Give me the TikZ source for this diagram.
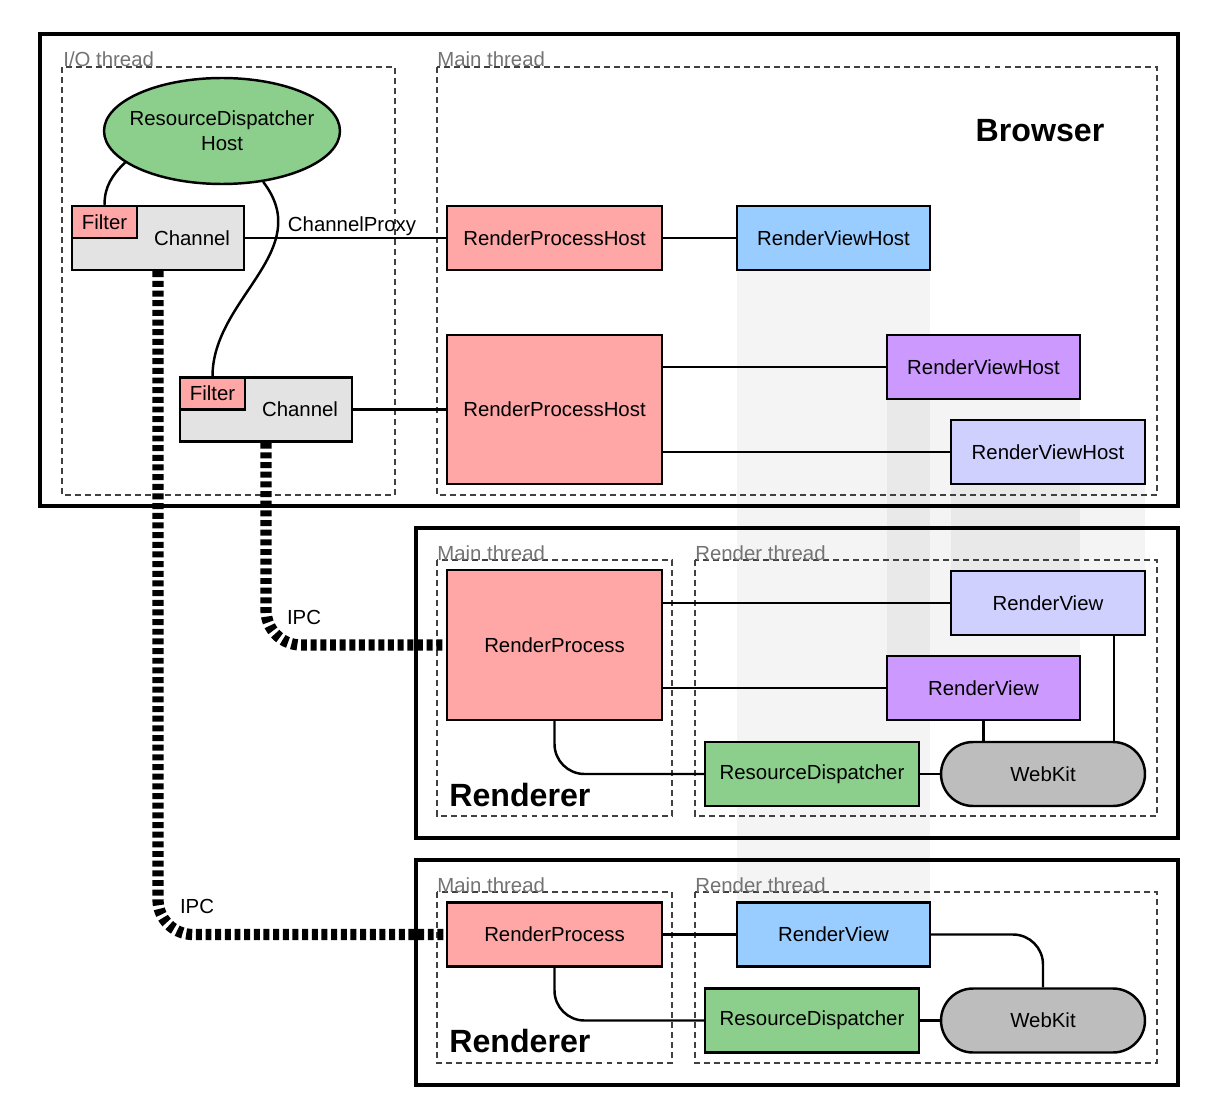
\documentclass[tikz,border=0pt]{standalone}
\usepackage{fontspec}
\setmainfont{Liberation Sans}
\usetikzlibrary{shapes.geometric}
\definecolor{procpink}{HTML}{FFA6A6}
\definecolor{dispgreen}{HTML}{8CCF8C}
\definecolor{viewblue}{HTML}{99CCFF}
\definecolor{viewpurple}{HTML}{CC99FF}
\definecolor{viewlav}{HTML}{D0D0FF}
\definecolor{changray}{HTML}{E3E3E3}
\definecolor{kitgray}{HTML}{BDBDBD}
\newcommand{\boxfont}{\fontsize{11.6}{14}\selectfont}
\newcommand{\bigfont}{\fontsize{18.3}{20}\selectfont\bfseries}
\tikzset{
  box/.style={draw, line width=1.4pt, inner sep=0pt, minimum height=1.28cm, font=\boxfont},
  conn/.style={line width=1.4pt},
  thread/.style={line width=0.8pt, draw=black!75, dash pattern=on 3.4pt off 2.3pt},
  tlabel/.style={anchor=base west, inner sep=0pt, text=black!55, font=\boxfont},
  frame/.style={line width=2.8pt},
  ipc/.style={line width=6.4pt, dash pattern=on 3.4pt off 2.1pt, rounded corners=0.7cm},
}
\begin{document}
\begin{tikzpicture}[x=0.02cm, y=-0.02cm]
  \useasboundingbox (0,0) rectangle (1230,1108);
  % faint projection bands
  \fill[black, opacity=0.045] (737,270) rectangle (930,903);
  \fill[black, opacity=0.045] (887,399) rectangle (1080,656);
  \fill[black, opacity=0.045] (951,484) rectangle (1145,571);
  % process frames and threads
  \draw[frame] (40,34) rectangle (1178,506);
  \draw[frame] (416,528) rectangle (1178,838);
  \draw[frame] (416,860) rectangle (1178,1085);
  \draw[thread] (62,67) rectangle (395,495);
  \draw[thread] (437,67) rectangle (1157,495);
  \draw[thread] (437,560) rectangle (672,816);
  \draw[thread] (695,560) rectangle (1157,816);
  \draw[thread] (437,892) rectangle (672,1063);
  \draw[thread] (695,892) rectangle (1157,1063);
  \node[tlabel] (tio) at (63,67) {I/O thread};
  \node[tlabel] (tbm) at (437,67) {Main thread};
  \node[tlabel] (tr1m) at (437,560) {Main thread};
  \node[tlabel] (tr1r) at (695,560) {Render thread};
  \node[tlabel] (tr2m) at (437,892) {Main thread};
  \node[tlabel] (tr2r) at (695,892) {Render thread};
  \node[font=\bigfont] (browser) at (1040,131) {Browser};
  \node[font=\bigfont, anchor=west, inner sep=0pt] (rend1) at (449,795) {Renderer};
  \node[font=\bigfont, anchor=west, inner sep=0pt] (rend2) at (449,1041) {Renderer};

  % browser
  \node[ellipse, draw, line width=1.4pt, fill=dispgreen, minimum width=4.72cm, minimum height=2.12cm,
        inner sep=0pt, align=center, font=\boxfont] (rdh) at (222,131)
        {\makebox[0pt]{ResourceDispatcher}\\\makebox[0pt]{Host}};
  \node[box, fill=changray, text width=2.88cm, inner xsep=0.28cm, align=right] (ch1) at (158,238) {Channel};
  \node[box, fill=procpink, minimum width=1.3cm, minimum height=0.64cm, anchor=north west] (fil1) at (ch1.north west) {Filter};
  \node[box, fill=changray, text width=2.88cm, inner xsep=0.28cm, align=right] (ch2) at (266,409.5) {Channel};
  \node[box, fill=procpink, minimum width=1.3cm, minimum height=0.64cm, anchor=north west] (fil2) at (ch2.north west) {Filter};
  \node[box, fill=procpink, minimum width=4.3cm] (rph1) at (554.5,238) {RenderProcessHost};
  \node[box, fill=viewblue, minimum width=3.86cm] (rvh1) at (833.5,238) {RenderViewHost};
  \node[box, fill=procpink, minimum width=4.3cm, minimum height=2.98cm] (rph2) at (554.5,409.5) {RenderProcessHost};
  \node[box, fill=viewpurple, minimum width=3.86cm] (rvh2) at (983.5,367) {RenderViewHost};
  \node[box, fill=viewlav, minimum width=3.88cm] (rvh3) at (1048,452) {RenderViewHost};
  \node[font=\boxfont, inner sep=0pt] (cproxy) at (352,226) {ChannelProxy};

  % renderer 1
  \node[box, fill=procpink, minimum width=4.3cm, minimum height=3cm] (rp1) at (554.5,645) {RenderProcess};
  \node[box, fill=viewlav, minimum width=3.88cm] (rv1a) at (1048,603) {RenderView};
  \node[box, fill=viewpurple, minimum width=3.86cm] (rv1b) at (983.5,688) {RenderView};
  \node[box, fill=dispgreen, minimum width=4.28cm] (rd1) at (812,774) {ResourceDispatcher};
  \node[box, fill=kitgray, minimum width=4.08cm, rounded corners=0.64cm] (wk1) at (1043,774) {WebKit};

  % renderer 2
  \node[box, fill=procpink, minimum width=4.3cm] (rp2) at (554.5,934.5) {RenderProcess};
  \node[box, fill=viewblue, minimum width=3.86cm] (rv2) at (833.5,934.5) {RenderView};
  \node[box, fill=dispgreen, minimum width=4.28cm] (rd2) at (812,1020.5) {ResourceDispatcher};
  \node[box, fill=kitgray, minimum width=4.08cm, rounded corners=0.64cm] (wk2) at (1043,1020.5) {WebKit};

  % connectors
  \draw[conn] (fil1.north) to[out=90, in=225] (rdh.198);
  \draw[conn] (rdh.-51) .. controls +(53,69) and +(0,-78) .. (fil2.north);
  \draw[conn] (ch1.east) -- (rph1.west);
  \draw[conn] (ch2.east) -- (rph2.west);
  \draw[conn] (rph1.east) -- (rvh1.west);
  \draw[conn] (rvh2.west -| rph2.east) -- (rvh2.west);
  \draw[conn] (rvh3.west -| rph2.east) -- (rvh3.west);
  \draw[conn] (rv1a.west -| rp1.east) -- (rv1a.west);
  \draw[conn] (rv1b.west -| rp1.east) -- (rv1b.west);
  \draw[conn] (rd1.east) -- (wk1.west);
  \draw[conn] (rv1b.south) -- (rv1b.south |- wk1.north);
  \coordinate (kit1) at ([xshift=-0.64cm]rv1a.south east);
  \draw[conn] (kit1) -- (kit1 |- wk1.north);
  \draw[conn, rounded corners=0.6cm] (rp1.south) |- (rd1.west);
  \draw[conn] (rp2.east) -- (rv2.west);
  \draw[conn] (rd2.east) -- (wk2.west);
  \draw[conn, rounded corners=0.6cm] (rv2.east) -| (wk2.north);
  \draw[conn, rounded corners=0.6cm] (rp2.south) |- (rd2.west);

  % IPC
  \draw[ipc] (ch1.south) |- (rp2.west);
  \draw[ipc] (ch2.south) |- (rp1.west);
  \node[font=\boxfont, inner sep=0pt] (ipc1) at (197,906) {IPC};
  \node[font=\boxfont, inner sep=0pt] (ipc2) at (304,617) {IPC};
\end{tikzpicture}
\end{document}
